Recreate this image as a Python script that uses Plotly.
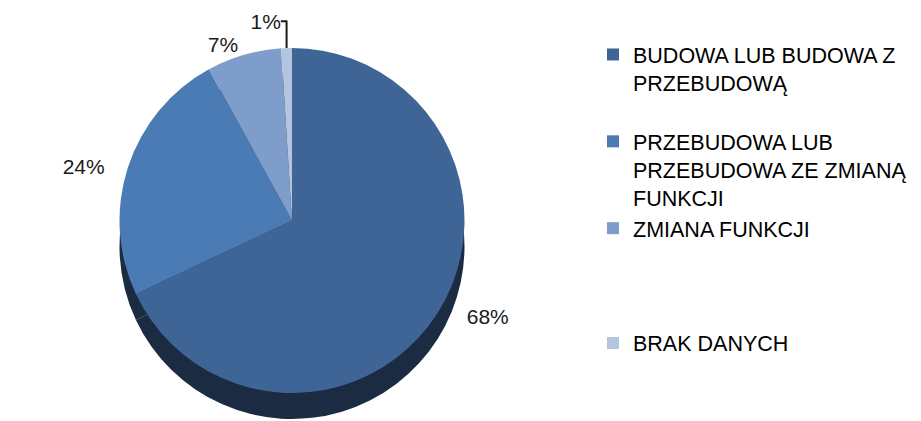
import plotly.graph_objects as go

categories = [
    "BUDOWA LUB BUDOWA Z<br>PRZEBUDOWĄ<br> ",
    "PRZEBUDOWA LUB<br>PRZEBUDOWA ZE ZMIANĄ<br>FUNKCJI",
    "ZMIANA FUNKCJI<br> <br> <br> ",
    "BRAK DANYCH",
]
values = [68, 24, 7, 1]
colors = ["#3E6596", "#4A7BB5", "#7F9DCB", "#B4C5E0"]
side_colors = ["#1B2B42", "#1B2B42", "#1B2B42", "#1B2B42"]
# label templates (non-breaking spaces only nudge the outside labels off the disc side)
label_templates = [
    "\u00a0\u00a0\u00a0\u00a0%{value}%",
    "%{value}%\u00a0\u00a0\u00a0",
    "%{value}%",
    "%{value}%",
]

# page is offset by the 8px body margin -> figure is 913x413
W, H = 913, 413
OFF = 8
cx_page = 292
diam = 345
top_page = 48
depth = 26

def xdom(cx):
    c = (cx - OFF) / W
    return [0, 2 * c]

def ydom(t_page, d):
    t = t_page - OFF
    return [(H - (t + d)) / H, (H - t) / H]

FONT = "Liberation Sans, Arial, sans-serif"

fig = go.Figure()
# darker base pie suggesting the 3D side of the disc
fig.add_trace(go.Pie(
    labels=categories, values=values, sort=False, direction="clockwise", rotation=0,
    marker=dict(colors=side_colors, line=dict(width=0)),
    textinfo="none", hoverinfo="skip", showlegend=False,
    domain=dict(x=xdom(cx_page), y=ydom(top_page + depth, diam)),
))
fig.add_trace(go.Pie(
    labels=categories, values=values, sort=False, direction="clockwise", rotation=0,
    marker=dict(colors=colors, line=dict(width=0)),
    texttemplate=label_templates, textposition="outside",
    textfont=dict(size=21, color="#1a1a1a", family=FONT),
    domain=dict(x=xdom(cx_page), y=ydom(top_page, diam)),
))

fig.update_layout(
    width=W, height=H, autosize=False,
    margin=dict(l=0, r=0, t=0, b=0, autoexpand=False),
    paper_bgcolor="white",
    showlegend=True,
    legend=dict(
        x=585 / W, y=1 - 26 / H, xanchor="left", yanchor="top",
        font=dict(size=21.5, color="#000", family=FONT),
        valign="top",
    ),
)

fig.write_html("out.html")
